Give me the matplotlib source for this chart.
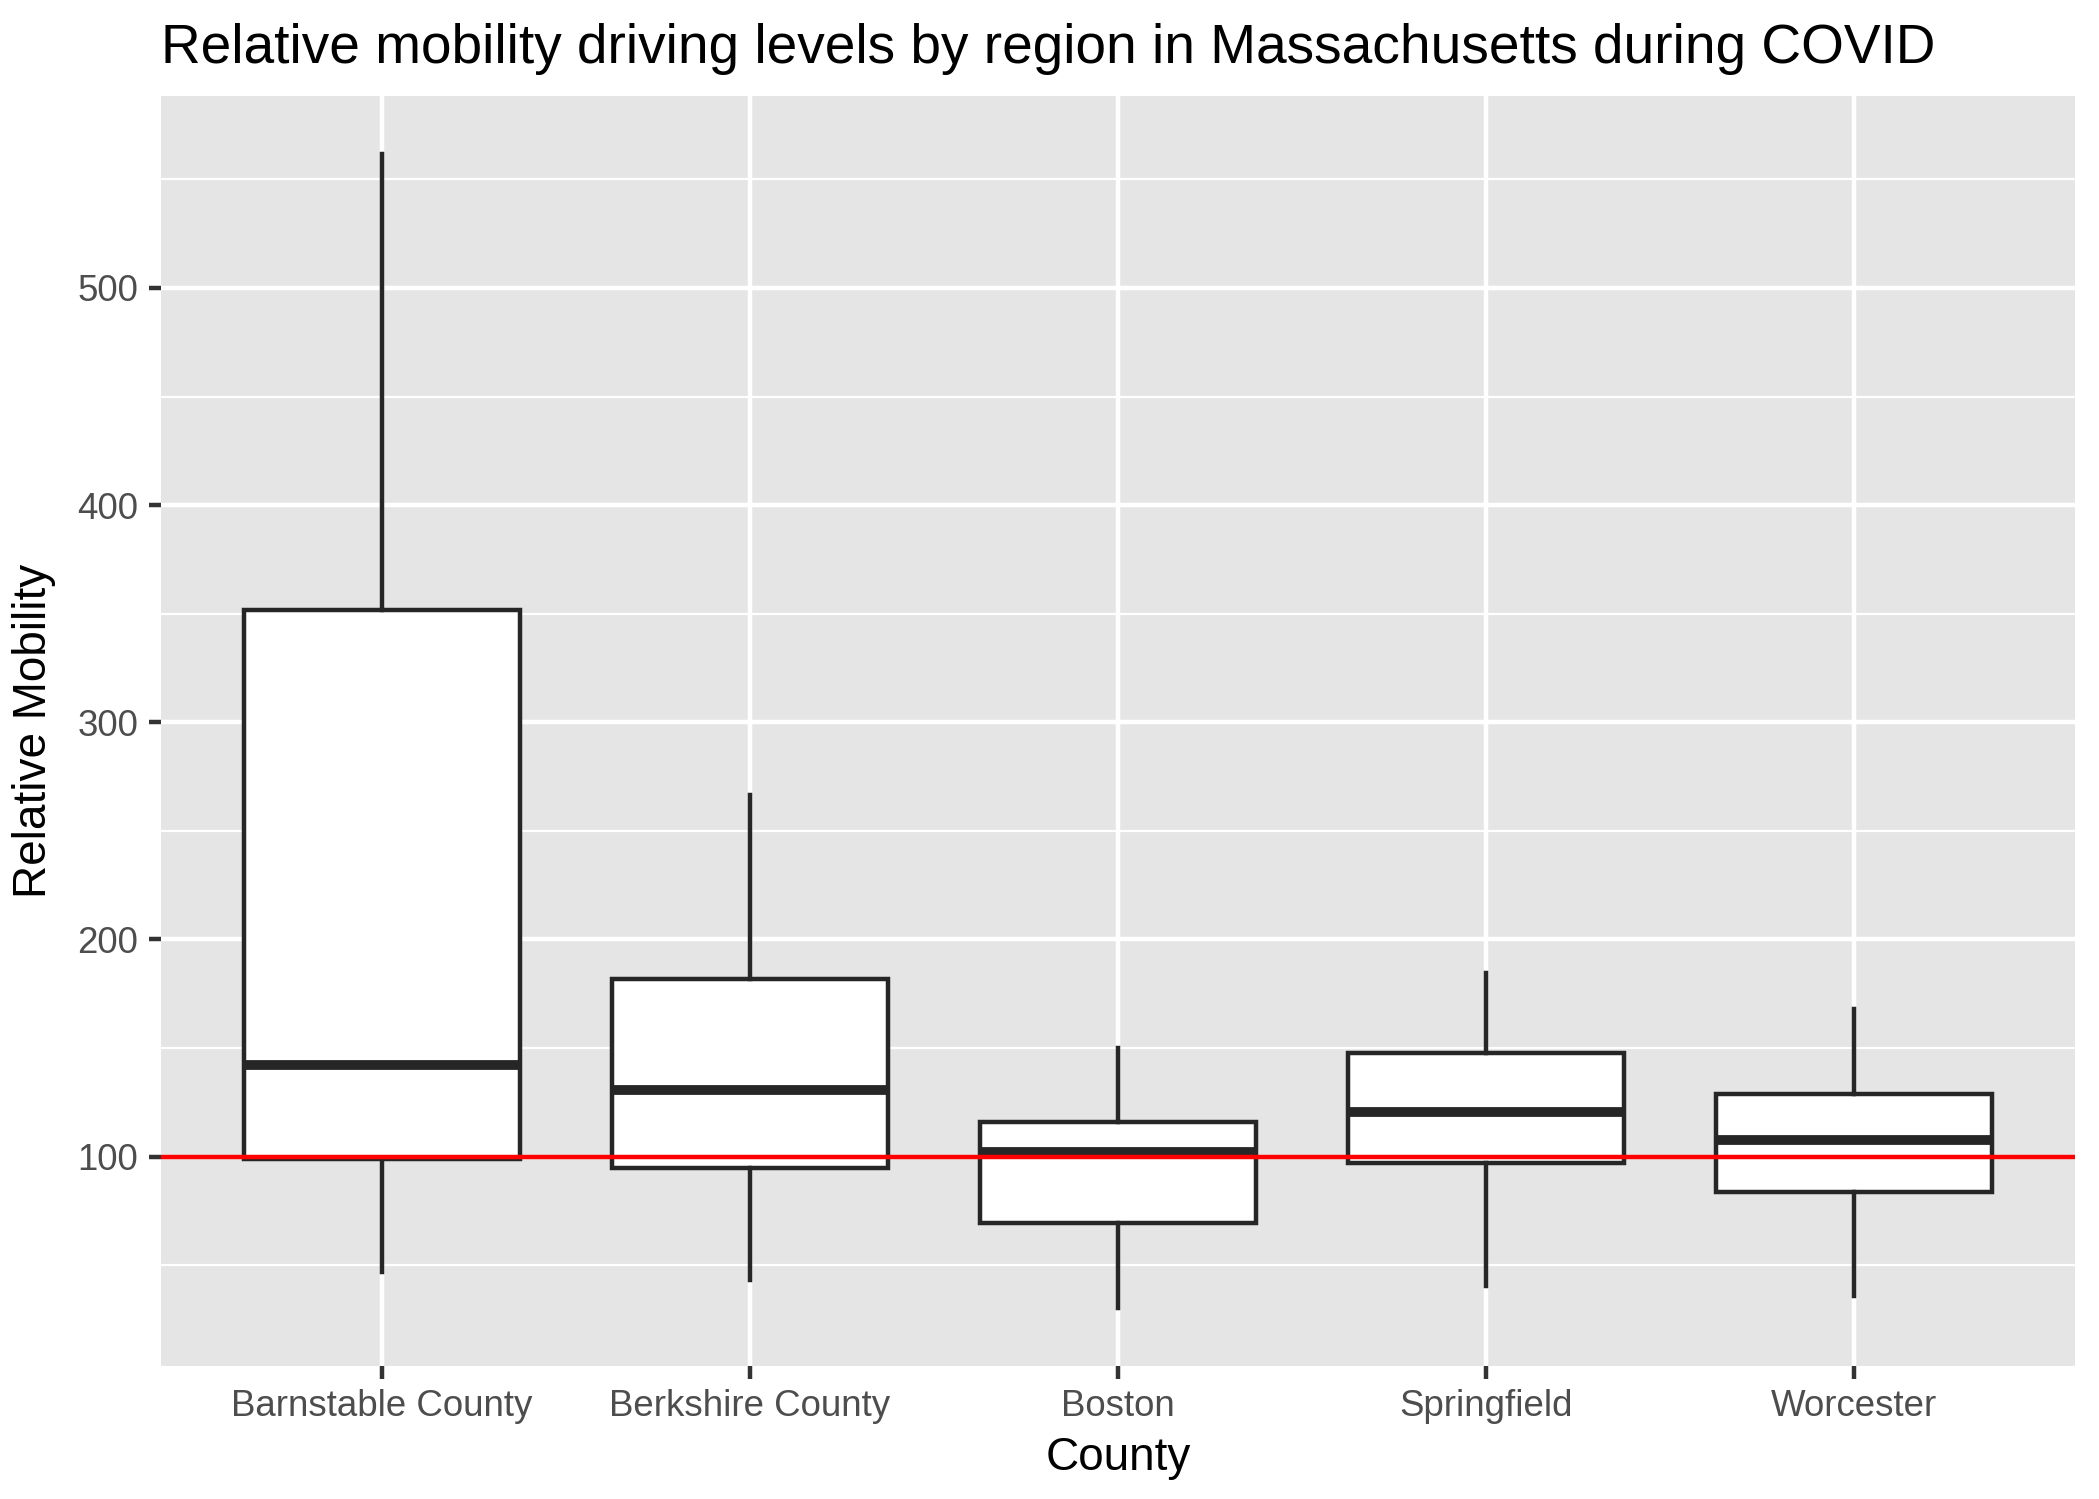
import matplotlib
matplotlib.use("Agg")
import matplotlib.pyplot as plt
from matplotlib.ticker import MultipleLocator

plt.rcParams['font.family'] = ['Liberation Sans', 'DejaVu Sans']

counties = ["Barnstable County", "Berkshire County", "Boston", "Springfield", "Worcester"]
whisker_low = [46.8, 43.1, 30.2, 40.6, 35.7]
q1 = [99.1, 94.8, 69.6, 97.3, 83.7]
median = [142.2, 130.5, 102.2, 120.7, 107.8]
q3 = [351.6, 181.7, 115.8, 147.8, 128.7]
whisker_high = [561.6, 266.6, 150.2, 184.7, 168.1]
baseline = 100
y_ticks = [100, 200, 300, 400, 500]

stats = []
for i, name in enumerate(counties):
    stats.append(dict(label=name, whislo=whisker_low[i], q1=q1[i], med=median[i],
                      q3=q3[i], whishi=whisker_high[i], fliers=[]))

fig = plt.figure(figsize=(2099 / 300, 1499 / 300), dpi=300)
ax = fig.add_axes([0.0767, 0.0887, 0.912, 0.847])
ax.set_facecolor('#E5E5E5')
for s in ax.spines.values():
    s.set_visible(False)

lw = 1.07
ax.bxp(stats, positions=range(1, len(counties) + 1), widths=0.75,
       showcaps=False, patch_artist=True, showfliers=False,
       boxprops=dict(facecolor='white', edgecolor='#262626', linewidth=lw),
       medianprops=dict(color='#262626', linewidth=2.2 * lw, solid_capstyle='butt'),
       whiskerprops=dict(color='#262626', linewidth=lw),
       zorder=3)

ax.axhline(baseline, color='red', linewidth=lw, zorder=4)

ax.set_xlim(0.4, len(counties) + 0.6)
ax.set_ylim(3.6, 588.2)
ax.set_yticks(y_ticks)
ax.yaxis.set_minor_locator(MultipleLocator(50))
ax.set_xticks(range(1, len(counties) + 1))
ax.set_xticklabels(counties)

ax.grid(which='major', color='white', linewidth=lw, zorder=0)
ax.grid(which='minor', axis='y', color='white', linewidth=lw / 2, zorder=0)
ax.set_axisbelow(True)

ax.tick_params(axis='both', which='major', length=3, width=lw, color='#333333',
               labelsize=8.8, labelcolor='#4D4D4D', pad=2.5)
ax.tick_params(axis='y', which='minor', length=0)

ax.set_xlabel("County", fontsize=11, labelpad=3)
ax.set_ylabel("Relative Mobility", fontsize=11, labelpad=5)
ax.set_title("Relative mobility driving levels by region in Massachusetts during COVID",
             loc='left', fontsize=13.2, pad=8)

fig.savefig("out.png", dpi=300)
